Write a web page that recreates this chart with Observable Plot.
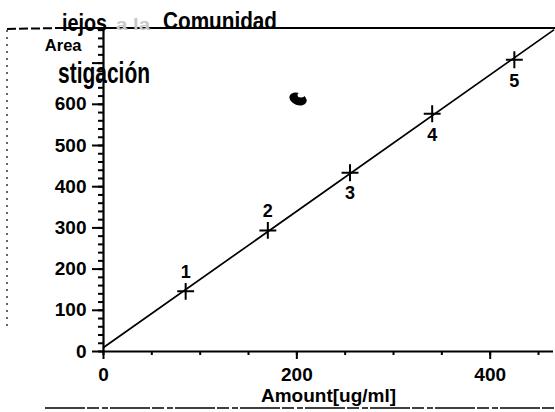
<!DOCTYPE html>
<html>
<head>
<meta charset="utf-8">
<script src="https://cdn.jsdelivr.net/npm/d3@7"></script>
<script src="https://cdn.jsdelivr.net/npm/@observablehq/plot@0.6"></script>
<style>
  html, body { margin: 0; padding: 0; background: #fff; }
  #chart svg { display: block; }
</style>
</head>
<body>
<div id="chart"></div>
<script>
// ---- data ----
const amounts = [85, 170, 255, 340, 425];          // Amount [ug/ml]
const areas = [146, 294, 434, 577, 708];           // Area
const pointLabels = ["1", "2", "3", "4", "5"];
const fitIntercept = 9.7;                          // regression line
const fitSlope = 1.655;
const xDomain = [0, 465.5];
const yDomain = [0, 784];
const xMajorTicks = [0, 200, 400];
const xMinorTicks = [0, 50, 100, 150, 200, 250, 300, 350, 400, 450];
const yMajorTicks = [0, 100, 200, 300, 400, 500, 600, 700];
const yTickLabels = ["0", "100", "200", "300", "400", "500", "600", ""];
const yMinorTicks = d3.range(0, 781, 20);
const xLabel = "Amount[ug/ml]";
const yLabel = "Area";
const scanText1 = ["iejos", "a la", "Comunidad"];
const scanText2 = "stigación";

const points = amounts.map((a, i) => ({amount: a, area: areas[i], label: pointLabels[i], idx: i}));
const fitLine = xDomain.map(x => ({amount: x, area: fitIntercept + fitSlope * x}));

const font = "'Liberation Sans', Arial, sans-serif";

const chart = Plot.plot({
  width: 555,
  height: 412,
  marginLeft: 103,
  marginRight: 2,
  marginTop: 28,
  marginBottom: 61,
  style: {fontFamily: font, fontWeight: "bold", background: "#fff", color: "#000", overflow: "visible"},
  x: {domain: xDomain},
  y: {domain: yDomain},
  marks: [
    Plot.axisX(xMinorTicks, {tickSize: 4, strokeWidth: 2, tickFormat: () => "", label: null}),
    Plot.axisX(xMajorTicks, {tickSize: 8, strokeWidth: 2, tickPadding: 8, fontSize: 19, fontWeight: "bold", label: null}),
    Plot.axisY(yMinorTicks, {tickSize: 5, strokeWidth: 2, tickFormat: () => "", label: null}),
    Plot.axisY(yMajorTicks, {tickSize: 11, strokeWidth: 2, tickPadding: 6, fontSize: 19, fontWeight: "bold",
      tickFormat: (d) => yTickLabels[yMajorTicks.indexOf(d)], label: null}),
    Plot.ruleX([0], {strokeWidth: 2.2}),
    Plot.ruleY([0], {strokeWidth: 2.2}),
    Plot.line(fitLine, {x: "amount", y: "area", stroke: "#000", strokeWidth: 1.7}),
    Plot.dot(points, {x: "amount", y: "area", symbol: "plus", r: 5.5, stroke: "#000", strokeWidth: 2}),
    Plot.text(points, {filter: d => d.idx < 2, x: "amount", y: "area", text: "label", dy: -19, fontSize: 18, fontWeight: "bold"}),
    Plot.text(points, {filter: d => d.idx >= 2, x: "amount", y: "area", text: "label", dy: 21, fontSize: 18, fontWeight: "bold"}),
    Plot.text([xLabel], {frameAnchor: "bottom", dy: 50, fontSize: 19, fontWeight: "bold"}),
    Plot.text([yLabel], {frameAnchor: "top-left", dx: -22, dy: 11, textAnchor: "end", fontSize: 16.5, fontWeight: "bold"})
  ]
});

document.getElementById("chart").appendChild(chart);

// ---- scan artefacts: frame lines and overprinted text ----
const svg = d3.select(chart);
const deco = svg.append("g").attr("fill", "none").attr("stroke", "#000");
deco.append("line").attr("x1", 60).attr("x2", 555).attr("y1", 28).attr("y2", 28).attr("stroke-width", 2);
deco.append("line").attr("x1", 7).attr("x2", 60).attr("y1", 29).attr("y2", 28).attr("stroke-width", 2).attr("stroke-dasharray", "9,3");
deco.append("line").attr("x1", 7).attr("x2", 7).attr("y1", 30).attr("y2", 330).attr("stroke-width", 1.2).attr("stroke-dasharray", "2,5");
deco.append("line").attr("x1", 45).attr("x2", 555).attr("y1", 408).attr("y2", 408).attr("stroke-width", 1.5).attr("stroke-dasharray", "40,2,12,3,6,2");

const scan = svg.append("g")
  .attr("font-family", font).attr("font-weight", "bold").attr("text-anchor", "start").attr("fill", "#000");
scan.append("text").attr("x", 62).attr("y", 31).attr("font-size", 23)
  .attr("textLength", 45).attr("lengthAdjust", "spacingAndGlyphs").text(scanText1[0]);
scan.append("text").attr("x", 116).attr("y", 30).attr("font-size", 17).attr("fill", "#c8c8c8")
  .attr("textLength", 34).attr("lengthAdjust", "spacingAndGlyphs").text(scanText1[1]);
scan.append("text").attr("x", 163).attr("y", 29).attr("font-size", 23)
  .attr("textLength", 114).attr("lengthAdjust", "spacingAndGlyphs").text(scanText1[2]);
scan.append("text").attr("x", 58).attr("y", 83).attr("font-size", 29)
  .attr("textLength", 92).attr("lengthAdjust", "spacingAndGlyphs").text(scanText2);

svg.append("ellipse").attr("cx", 298).attr("cy", 99).attr("rx", 9).attr("ry", 6)
  .attr("transform", "rotate(20 298 99)").attr("fill", "#000");
svg.append("ellipse").attr("cx", 301).attr("cy", 95).attr("rx", 3.5).attr("ry", 2.5).attr("fill", "#fff");
</script>
</body>
</html>
